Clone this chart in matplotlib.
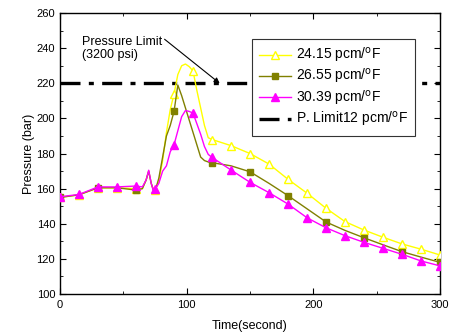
import matplotlib
matplotlib.use('Agg')
from matplotlib import pyplot as plt
from matplotlib.ticker import MultipleLocator

plt.rcParams['font.family'] = ['Liberation Sans', 'DejaVu Sans']

# time (s)
time = [0, 15, 30, 45, 60, 65, 68, 70, 72, 74, 75, 78, 81, 84, 87, 90, 93, 96, 99, 102,
        105, 108, 111, 114, 117, 120, 135, 150, 165, 180, 195, 210, 225, 240, 255, 270, 285, 300]
# pressure (bar) for each gradient
p_2415 = [155, 156.5, 160.5, 160.5, 160, 160, 165, 170, 163, 159, 159, 164, 176, 192, 205, 214,
          225, 230, 231, 229.5, 227, 216, 206, 196, 189, 188, 184.5, 180, 174, 165.3, 157.4,
          148.8, 141.2, 136.4, 132.3, 128.5, 125.5, 122.2]
p_2655 = [155, 156.5, 160.5, 160.5, 159.2, 160, 165, 170, 163, 158.5, 158.5, 166, 178, 190, 196, 204,
          219, 213, 206, 199, 192, 185, 178, 176, 175.2, 174.8, 173, 169.6, 163, 156.0, 148.5,
          141.0, 136.2, 132.0, 128.0, 124.1, 121.0, 118.0]
p_3039 = [155.4, 156.7, 161, 161, 161.5, 161, 165, 170.5, 163, 158, 159.6, 163, 170, 173, 181, 185,
          193, 201, 204.5, 204, 203, 197, 191, 184, 179.5, 177.8, 170.6, 163.6, 157.7, 151.2,
          143.4, 137.7, 133.2, 129.4, 126.0, 122.6, 118.8, 116.0]
limit_t = [0, 300]
limit_p = [220, 220]

labels = ['24.15 pcm/$^{\\mathrm{o}}$F', '26.55 pcm/$^{\\mathrm{o}}$F',
          '30.39 pcm/$^{\\mathrm{o}}$F', 'P. Limit12 pcm/$^{\\mathrm{o}}$F']

every15 = [i for i, t in enumerate(time) if t % 15 == 0]
every30 = [i for i, t in enumerate(time) if t % 30 == 0]

fig = plt.figure(figsize=(4.49, 3.36), dpi=100)
ax = fig.add_axes([0.1336, 0.125, 0.8467, 0.836])

ax.plot(limit_t, limit_p, color='black', lw=2.4, dashes=(6, 2.5, 1.5, 2.5), label=labels[3], zorder=2)
ax.plot(time, p_2415, color='#FFFF00', lw=1, marker='^', ms=6, mfc='white', mec='#FFFF00',
        markevery=every15, label=labels[0], zorder=3)
ax.plot(time, p_2655, color='#808000', lw=1, marker='s', ms=5, mfc='#808000', mec='#808000',
        markevery=every30, label=labels[1], zorder=4)
ax.plot(time, p_3039, color='#FF00FF', lw=1, marker='^', ms=6, mfc='#FF00FF', mec='#FF00FF',
        markevery=every15, label=labels[2], zorder=5)

ax.annotate('Pressure Limit\n(3200 psi)', xy=(126, 220), xytext=(17, 240),
            fontsize=9, ha='left', va='center', linespacing=1.1,
            arrowprops=dict(arrowstyle='-|>', color='black', lw=0.8, relpos=(1.0, 0.95),
                            mutation_scale=8, shrinkA=0, shrinkB=0))

h, l = ax.get_legend_handles_labels()
order = [1, 2, 3, 0]
leg = ax.legend([h[i] for i in order], [l[i] for i in order], loc='upper right',
                bbox_to_anchor=(0.934, 0.907), fontsize=10, fancybox=False, framealpha=1,
                edgecolor='#333333', borderpad=0.5, labelspacing=0.16, handlelength=2.3,
                handletextpad=0.35, borderaxespad=0)
leg.get_frame().set_linewidth(0.8)

ax.set_xlim(0, 300)
ax.set_ylim(100, 260)
ax.xaxis.set_major_locator(MultipleLocator(100))
ax.xaxis.set_minor_locator(MultipleLocator(50))
ax.yaxis.set_major_locator(MultipleLocator(20))
ax.yaxis.set_minor_locator(MultipleLocator(10))
ax.tick_params(axis='both', which='both', direction='in', top=True, right=True, labelsize=8)
ax.tick_params(which='major', length=4)
ax.tick_params(which='minor', length=2.5)
ax.tick_params(axis='x', pad=4.5)
for s in ax.spines.values():
    s.set_linewidth(1)

ax.set_xlabel('Time(second)', fontsize=9, labelpad=7)
ax.set_ylabel('Pressure (bar)', fontsize=9, labelpad=1)

fig.savefig('out.png', dpi=100)
